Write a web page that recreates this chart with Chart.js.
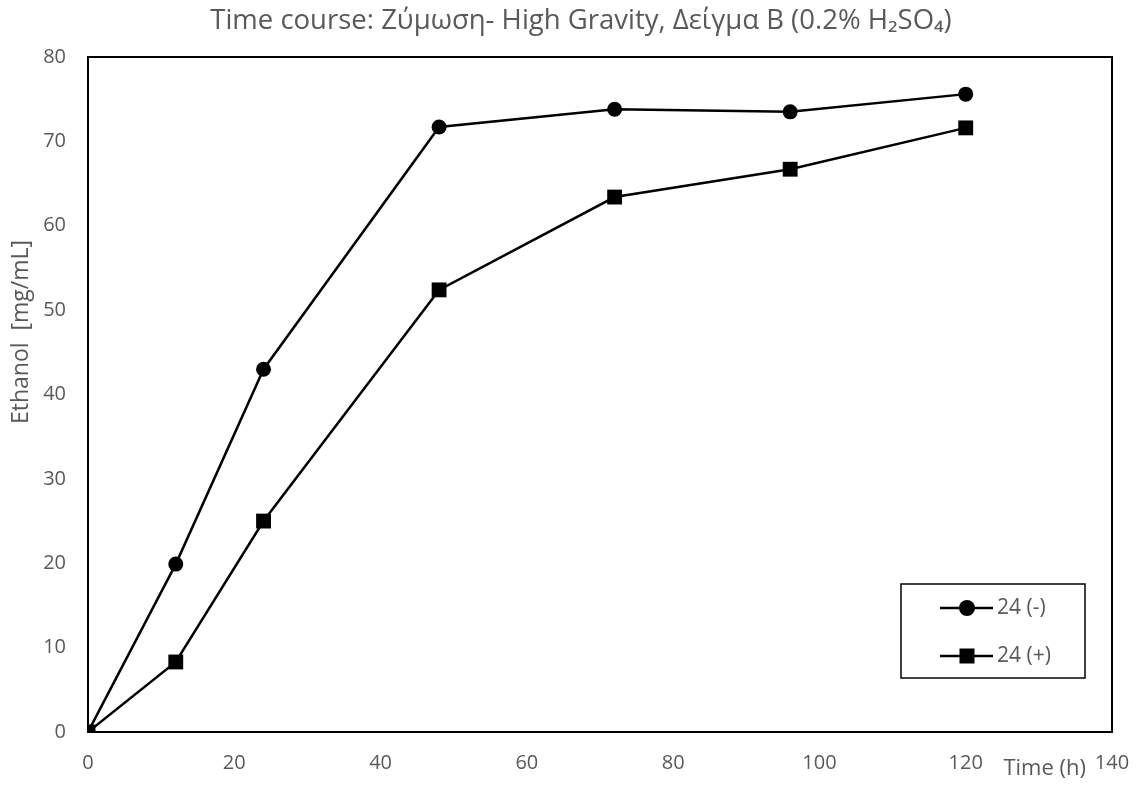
<!DOCTYPE html>
<html>
<head>
<meta charset="utf-8">
<script src="https://cdn.jsdelivr.net/npm/chart.js@4"></script>
<style>
  html, body { margin: 0; padding: 0; background: #fff; }
  #wrap { width: 1143px; height: 789px; }
</style>
</head>
<body>
<div id="wrap"><canvas id="chart" width="1143" height="789"></canvas></div>
<script>
// sampling times (h) and ethanol concentrations (mg/mL)
const hours = [0, 12, 24, 48, 72, 96, 120];
const ethanolMinus = [0, 19.9, 43.0, 71.7, 73.8, 73.5, 75.6];
const ethanolPlus = [0, 8.3, 25.0, 52.4, 63.4, 66.7, 71.6];
const seriesNames = ['24 (-)', '24 (+)'];
const xTicks = [0, 20, 40, 60, 80, 100, 120, 140];
const yTicks = [0, 10, 20, 30, 40, 50, 60, 70, 80];

const FONT = '"Open Sans", "Noto Sans", sans-serif';
const GREY = '#595959';

const toPoints = (xs, ys) => xs.map((x, i) => ({ x: x, y: ys[i] }));

// frame, title, axis titles and boxed legend
const decorations = {
  id: 'decorations',
  afterDraw(chart) {
    const { ctx, chartArea: a, scales } = chart;
    ctx.save();
    ctx.strokeStyle = '#000';
    ctx.lineWidth = 2;
    ctx.strokeRect(a.left, a.top, a.right - a.left, a.bottom - a.top);

    ctx.fillStyle = GREY;
    ctx.font = '27.5px ' + FONT;
    ctx.textAlign = 'center';
    ctx.textBaseline = 'alphabetic';
    ctx.fillText('Time course: Ζύμωση- High Gravity, Δείγμα Β (0.2% H₂SO₄)', 581, 29);

    ctx.textBaseline = 'middle';
    ctx.font = '22px ' + FONT;
    ctx.fillText('Time (h)', scales.x.getPixelForValue(130.8), 769);

    ctx.save();
    ctx.translate(21, 332);
    ctx.rotate(-Math.PI / 2);
    ctx.font = '23px ' + FONT;
    ctx.fillText('Ethanol  [mg/mL]', 0, 0);
    ctx.restore();

    // legend box
    const bx = 901, by = 584, bw = 184, bh = 94;
    ctx.strokeStyle = '#000';
    ctx.lineWidth = 1.5;
    ctx.strokeRect(bx, by, bw, bh);
    chart.data.datasets.forEach((ds, i) => {
      const y = 608 + i * 48;
      ctx.strokeStyle = '#000';
      ctx.lineWidth = 2.5;
      ctx.beginPath();
      ctx.moveTo(940, y);
      ctx.lineTo(993, y);
      ctx.stroke();
      ctx.fillStyle = '#000';
      if (ds.pointStyle === 'rect') {
        ctx.fillRect(959.5, y - 7.5, 15, 15);
      } else {
        ctx.beginPath();
        ctx.arc(967, y, 8, 0, Math.PI * 2);
        ctx.fill();
      }
      ctx.fillStyle = GREY;
      ctx.font = '21px ' + FONT;
      ctx.textAlign = 'left';
      ctx.fillText(ds.label, 997, y);
    });
    ctx.restore();
  }
};

new Chart(document.getElementById('chart'), {
  type: 'line',
  data: {
    datasets: [
      {
        label: seriesNames[0],
        data: toPoints(hours, ethanolMinus),
        borderColor: '#000',
        backgroundColor: '#000',
        borderWidth: 2.5,
        pointStyle: 'circle',
        pointRadius: 7.5,
        pointBorderWidth: 0
      },
      {
        label: seriesNames[1],
        data: toPoints(hours, ethanolPlus),
        borderColor: '#000',
        backgroundColor: '#000',
        borderWidth: 2.5,
        pointStyle: 'rect',
        pointRadius: 10.5,
        pointBorderWidth: 0
      }
    ]
  },
  options: {
    responsive: false,
    animation: false,
    layout: { padding: { top: 57, left: 0, right: 31, bottom: 0 } },
    plugins: {
      legend: { display: false },
      title: { display: false },
      tooltip: { enabled: false }
    },
    scales: {
      x: {
        type: 'linear',
        min: 0,
        max: 140,
        afterBuildTicks(scale) { scale.ticks = xTicks.map(v => ({ value: v })); },
        afterFit(scale) { scale.height = 57; },
        grid: { display: false },
        border: { display: false },
        ticks: { color: GREY, font: { family: FONT, size: 20 }, padding: 11, maxRotation: 0 }
      },
      y: {
        min: 0,
        max: 80,
        afterBuildTicks(scale) { scale.ticks = yTicks.map(v => ({ value: v })); },
        afterFit(scale) { scale.width = 88; },
        grid: { display: false },
        border: { display: false },
        ticks: { color: GREY, font: { family: FONT, size: 20 }, padding: 14 }
      }
    }
  },
  plugins: [decorations]
});
</script>
</body>
</html>
